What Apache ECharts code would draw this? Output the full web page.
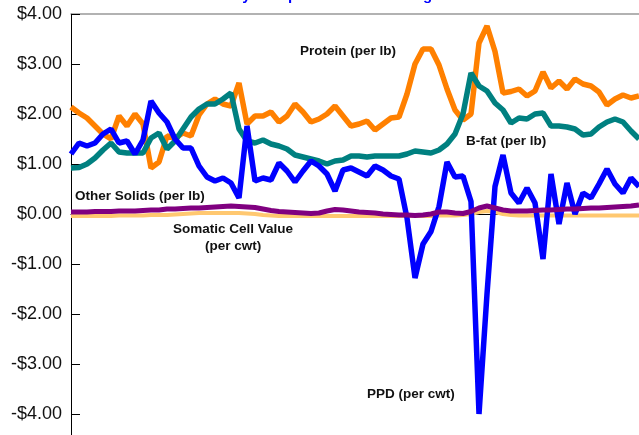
<!DOCTYPE html>
<html><head><meta charset="utf-8">
<script src="https://cdn.jsdelivr.net/npm/echarts@6/dist/echarts.min.js"></script>
<style>html,body{margin:0;padding:0;background:#fff;}#c{width:639px;height:435px;}</style>
</head><body><div id="c"></div>
<script>
const periods = ["1","2","3","4","5","6","7","8","9","10","11","12","13","14","15","16","17","18","19","20","21","22","23","24","25","26","27","28","29","30","31","32","33","34","35","36","37","38","39","40","41","42","43","44","45","46","47","48","49","50","51","52","53","54","55","56","57","58","59","60","61","62","63","64","65","66","67","68","69","70","71","72"];

const protein = [2.14,2.02,1.92,1.76,1.6,1.5,1.96,1.76,2.0,1.8,0.92,1.04,1.56,1.52,1.62,1.56,1.98,2.2,2.3,2.2,2.16,2.62,1.8,1.96,1.96,2.04,1.84,1.96,2.2,2.04,1.84,1.9,2.0,2.16,1.96,1.76,1.8,1.86,1.68,1.8,1.92,1.94,2.4,3.0,3.3,3.3,2.98,2.5,2.08,1.88,2.0,3.42,3.76,3.25,2.42,2.45,2.5,2.36,2.46,2.84,2.52,2.66,2.5,2.7,2.6,2.56,2.44,2.18,2.3,2.38,2.32,2.36];

const bfat = [0.92,0.93,1.0,1.12,1.28,1.42,1.24,1.22,1.22,1.22,1.52,1.62,1.3,1.46,1.7,1.94,2.1,2.2,2.2,2.3,2.42,1.7,1.46,1.42,1.48,1.4,1.36,1.3,1.18,1.14,1.1,1.06,1.0,1.06,1.08,1.16,1.16,1.14,1.16,1.16,1.16,1.16,1.2,1.26,1.24,1.22,1.28,1.4,1.6,2.0,2.82,2.56,2.46,2.22,2.08,1.82,1.92,1.9,2.0,2.02,1.76,1.76,1.74,1.7,1.58,1.6,1.74,1.84,1.9,1.84,1.66,1.5];

const ppd = [1.2,1.42,1.36,1.42,1.6,1.7,1.42,1.46,1.2,1.48,2.26,2.02,1.84,1.5,1.32,1.32,0.96,0.74,0.66,0.72,0.62,0.32,1.76,0.66,0.72,0.68,1.02,0.86,0.64,0.86,1.06,0.96,0.8,0.46,0.88,0.92,0.84,0.76,0.96,0.88,0.76,0.7,-0.08,-1.28,-0.6,-0.35,0.15,1.04,0.74,0.76,0.25,-4.0,-1.6,0.55,1.18,0.42,0.22,0.52,0.22,-0.9,0.8,-0.2,0.62,0.0,0.42,0.32,0.6,0.9,0.6,0.42,0.72,0.55];

const otherSolids = [0.04,0.04,0.04,0.05,0.05,0.05,0.06,0.06,0.06,0.07,0.08,0.08,0.1,0.1,0.11,0.12,0.12,0.13,0.14,0.15,0.16,0.15,0.14,0.13,0.1,0.07,0.05,0.04,0.03,0.02,0.01,0.02,0.06,0.09,0.08,0.06,0.04,0.03,0.02,0.0,-0.01,-0.02,-0.02,-0.03,-0.02,0.0,0.04,0.04,0.02,0.01,0.05,0.12,0.16,0.12,0.08,0.06,0.06,0.06,0.07,0.08,0.08,0.09,0.1,0.1,0.11,0.12,0.12,0.13,0.14,0.15,0.16,0.18];

const somaticCell = [-0.04,-0.04,-0.04,-0.04,-0.04,-0.04,-0.03,-0.03,-0.03,-0.03,-0.02,-0.02,-0.02,-0.01,0.0,0.01,0.02,0.02,0.02,0.02,0.02,0.02,0.01,0.0,-0.02,-0.03,-0.04,-0.04,-0.04,-0.04,-0.04,-0.04,-0.04,-0.04,-0.04,-0.04,-0.04,-0.04,-0.04,-0.04,-0.04,-0.04,-0.04,-0.04,-0.04,-0.04,-0.03,-0.03,-0.03,-0.02,0.0,0.04,0.06,0.04,0.0,-0.02,-0.03,-0.03,-0.03,-0.03,-0.03,-0.03,-0.03,-0.03,-0.03,-0.03,-0.03,-0.03,-0.03,-0.03,-0.03,-0.03];

const yTicks = {min: -5, max: 4, step: 1};

const seriesLabels = [
  {text: "Protein (per lb)", left: 300, top: 43},
  {text: "B-fat (per lb)", left: 466, top: 133},
  {text: "Other Solids (per lb)", left: 75, top: 188},
  {text: "Somatic Cell Value\n(per cwt)", left: 173, top: 221},
  {text: "PPD (per cwt)", left: 367, top: 386}
];

const chart = echarts.init(document.getElementById('c'), null, {renderer: 'canvas'});
const lbl = {fontFamily: 'Liberation Sans, Arial, sans-serif', fontSize: 13.5, fontWeight: 'bold', fill: '#111'};
chart.setOption({
  animation: false,
  backgroundColor: '#fff',
  title: {
    text: 'Monthly Component Value Changes',
    left: 193, top: -12, padding: 0,
    textStyle: {color: '#0000FF', fontSize: 15, fontWeight: 'bold', fontFamily: 'Liberation Sans, Arial, sans-serif'}
  },
  grid: {left: 71, top: 14, right: 0, height: 450, containLabel: false, outerBoundsMode: 'none'},
  xAxis: [
    {type: 'category', data: periods, boundaryGap: false,
     axisLine: {onZero: true, lineStyle: {color: '#000', width: 1}},
     axisTick: {show: false}, axisLabel: {show: false}, splitLine: {show: false}},
    {type: 'category', data: periods, boundaryGap: false, position: 'top',
     axisLine: {onZero: false, lineStyle: {color: '#999', width: 1.5}},
     axisTick: {show: false}, axisLabel: {show: false}, splitLine: {show: false}}
  ],
  yAxis: {
    type: 'value', min: yTicks.min, max: yTicks.max, interval: yTicks.step,
    axisLine: {show: true, onZero: false, lineStyle: {color: '#000', width: 1}},
    axisTick: {show: true, inside: true, length: 9, lineStyle: {color: '#000'}},
    splitLine: {show: false},
    axisLabel: {
      margin: 9, color: '#111', fontSize: 18, fontFamily: 'Liberation Sans, Arial, sans-serif',
      formatter: v => v === yTicks.min ? '' : (v < 0 ? '-$' : '$') + Math.abs(v).toFixed(2)
    }
  },
  series: [
    {name: 'Somatic Cell Value', type: 'line', data: somaticCell, showSymbol: false, lineStyle: {color: '#FFC870', width: 4}},
    {name: 'Protein', type: 'line', data: protein, showSymbol: false, lineStyle: {color: '#FF8000', width: 5.5}},
    {name: 'B-fat', type: 'line', data: bfat, showSymbol: false, lineStyle: {color: '#008080', width: 5.5}},
    {name: 'PPD', type: 'line', data: ppd, showSymbol: false, lineStyle: {color: '#0000FF', width: 5.5}},
    {name: 'Other Solids', type: 'line', data: otherSolids, showSymbol: false, lineStyle: {color: '#800080', width: 5}}
  ],
  graphic: seriesLabels.map(l => ({
    type: 'text', left: l.left, top: l.top, z: 100,
    style: Object.assign({text: l.text, textAlign: 'center', lineHeight: 17}, lbl)
  }))
});
</script></body></html>
